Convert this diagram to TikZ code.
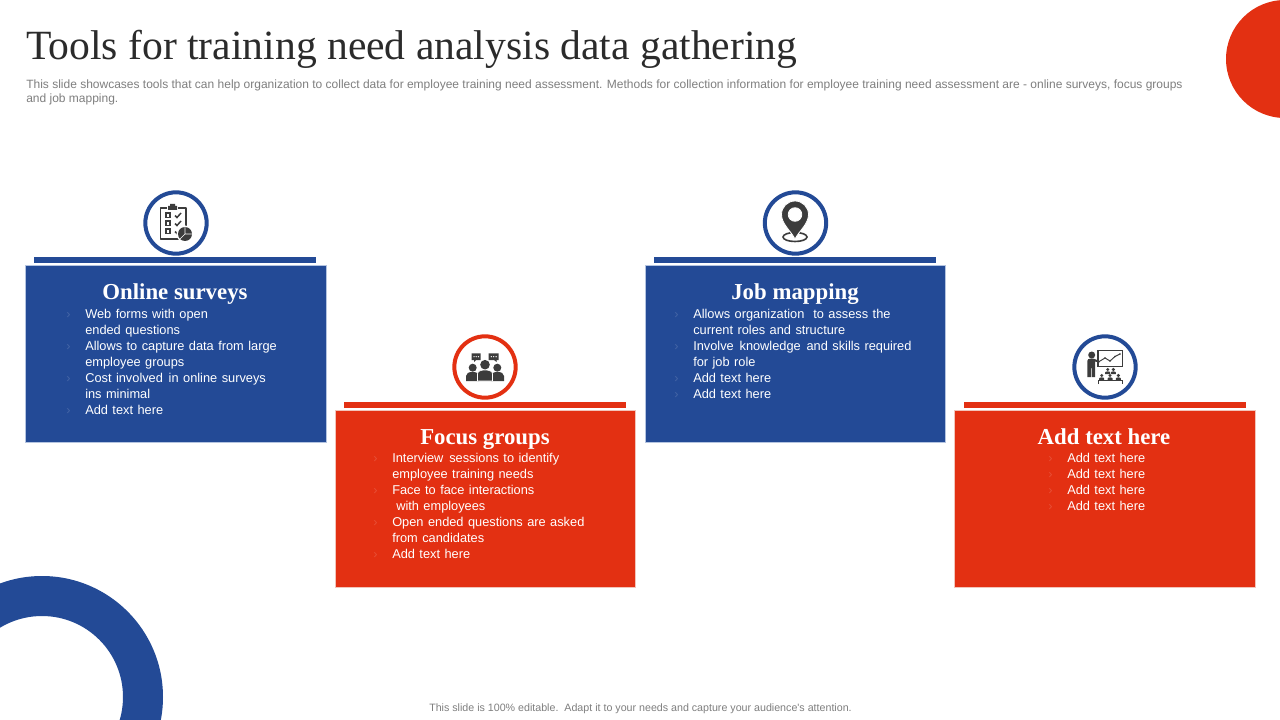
\documentclass[tikz,border=0pt]{standalone}
\usepackage{fontspec}
\setmainfont[WordSpace=1.25]{Liberation Sans}
\newfontfamily\plainsans{Liberation Sans}
\newfontfamily\headfont{Liberation Serif}
\definecolor{bluemain}{HTML}{234A96}
\definecolor{redmain}{HTML}{E33012}
\definecolor{iconc}{HTML}{3C3C3C}
\definecolor{titlec}{HTML}{2B2B2B}
\definecolor{greyc}{HTML}{7F7F7F}
\definecolor{bordb}{HTML}{B4C4E0}
\definecolor{bordr}{HTML}{F2C4BA}
\newcommand{\bl}[1]{\strut\llap{\makebox[14.25pt][l]{\color{bulc}›}}#1}
\tikzset{
  x=0.75pt,y=-0.75pt,
  card/.style={line width=0.8pt},
  ringb/.style={draw=bluemain,fill=white,line width=3pt},
  ringr/.style={draw=redmain,fill=white,line width=3pt},
  head/.style={inner sep=0,anchor=base,text=white,font=\headfont\bfseries\fontsize{17.1}{20}\selectfont},
  body/.style={inner sep=0,anchor=north west,align=left,text=white,font=\fontsize{9.6}{12}\selectfont},
  icl/.style={draw=iconc,line width=0.9pt,fill=none},
}
\begin{document}
\begin{tikzpicture}
\useasboundingbox (0,0) rectangle (1280,720);
\fill[white] (0,0) rectangle (1280,720);
% decorations
\fill[redmain] (1285,59) circle [radius=59];
\fill[bluemain,even odd rule] (42,697) circle [radius=121] (42,697) circle [radius=81];
% title
\node[inner sep=0,anchor=base west,text=titlec,font=\headfont\fontsize{31.2}{34}\selectfont] (title) at (26,60) {Tools for training need analysis data gathering};
\node[inner sep=0,anchor=north west,align=left,text=greyc,font=\plainsans\fontsize{9}{10.5}\selectfont] (sub) at (26,78) {\strut This slide showcases tools that can help organization to collect data for employee training need assessment. Methods for collection information for employee training need assessment are - online surveys, focus groups\\and job mapping.};
\node[inner sep=0,text=greyc,font=\plainsans\fontsize{8}{10}\selectfont] (foot) at (640.5,709) {This slide is 100\% editable.\ \ Adapt it to your needs and capture your audience's attention.};
% cards
\fill[bluemain] (34,257) rectangle (316,263);
\draw[card,fill=bluemain,draw=bordb] (25.5,265.5) rectangle (326.5,442.5);
\fill[redmain] (344,402) rectangle (626,408);
\draw[card,fill=redmain,draw=bordr] (335.5,410.5) rectangle (635.5,587.5);
\fill[bluemain] (654,257) rectangle (936,263);
\draw[card,fill=bluemain,draw=bordb] (645.5,265.5) rectangle (945.5,442.5);
\fill[redmain] (964,402) rectangle (1246,408);
\draw[card,fill=redmain,draw=bordr] (954.5,410.5) rectangle (1255.5,587.5);
% circles
\node[circle,ringb,minimum size=46pt,inner sep=0] (c1) at (176,223) {};
\node[circle,ringr,minimum size=46pt,inner sep=0] (c2) at (485,367) {};
\node[circle,ringb,minimum size=46pt,inner sep=0] (c3) at (795.5,223) {};
\node[circle,ringb,minimum size=46pt,inner sep=0] (c4) at (1105,367) {};
% headings
\node[head] (h1) at (175,299) {Online surveys};
\node[head] (h2) at (485,444) {Focus groups};
\node[head] (h3) at (795,299) {Job mapping};
\node[head] (h4) at (1104,444) {Add text here};
% bodies
\colorlet{bulc}{bluemain!85!white}
\node[body] (b1) at (85,307.5) {\bl{Web forms with open}\\\strut ended questions\\\bl{Allows to capture data from large}\\\strut employee groups\\\bl{Cost involved\hspace{1pt} in online surveys}\\\strut ins minimal\\\bl{Add text here}};
\node[body] (b3) at (693,307.5) {\bl{Allows organization\ \ to assess the}\\\strut current roles and structure\\\bl{Involve\hspace{1pt} knowledge\hspace{1pt} and skills required}\\\strut for job role\\\bl{Add text here}\\\bl{Add text here}};
\colorlet{bulc}{redmain!85!white}
\node[body] (b2) at (392,451.5) {\bl{Interview\hspace{1pt} sessions to identify}\\\strut employee training needs\\\bl{Face to face interactions}\\\strut\hspace{3pt}with employees\\\bl{Open ended questions are asked}\\\strut from candidates\\\bl{Add text here}};
\node[body] (b4) at (1067,451.5) {\bl{Add text here}\\\bl{Add text here}\\\bl{Add text here}\\\bl{Add text here}};
% icon 1: clipboard
\draw[icl,line width=1.2pt,line join=round] (167,208) -- (160.5,208) -- (160.5,239) -- (186,239) -- (186,208) -- (178,208);
\fill[iconc] (168,206) -- (170,206) -- (170,204) -- (175,204) -- (175,206) -- (177,206) -- (177,210) -- (168,210) -- cycle;
\foreach \yy in {213,221,229}{
  \draw[icl,line width=0.8pt] (166,\yy) rectangle (170,\yy+4.5);
  \fill[iconc] (166,\yy) rectangle (170,\yy+1.5);
  \draw[icl,line width=1.1pt] (175,\yy+2.5) -- (177,\yy+4.5) -- (181,\yy);
}
\fill[white] (185,234) circle [radius=8.5];
\fill[iconc] (185,234) circle [radius=7];
\draw[white,line width=0.5pt] (185,234) -- (185,227) (185,234) -- (192,234) (185,234) -- (180,239);
% icon 2: people
\fill[iconc] (471.7,353.3) rectangle (480.7,360) (474,360) -- (476,360) -- (474,362) -- cycle;
\fill[iconc] (488.7,353.3) rectangle (498.7,360) (494,360) -- (496.5,360) -- (496.5,362) -- cycle;
\foreach \xx in {474,476.2,478.4,491.3,493.7,496.1}{\fill[white] (\xx,356.7) circle [radius=0.7];}
\fill[iconc] (472.7,367.7) circle [radius=4];
\fill[iconc] (497.3,367.7) circle [radius=4];
\fill[iconc] (466,381) -- (466,376) .. controls (466,373) and (469,372) .. (472.5,372) .. controls (476,372) and (479,373) .. (479,376) -- (479,381) -- cycle;
\fill[iconc] (491,381) -- (491,376) .. controls (491,373) and (494,372) .. (497.5,372) .. controls (501,372) and (504,373) .. (504,376) -- (504,381) -- cycle;
\fill[iconc,draw=white,line width=0.5pt] (477.5,381) -- (477.5,374) .. controls (477.5,371) and (481,370) .. (485,370) .. controls (489,370) and (492.5,371) .. (492.5,374) -- (492.5,381) -- cycle;
\fill[iconc] (485,364.7) circle [radius=4.8];
% icon 3: pin
\draw[icl,line width=1.2pt] (795,237) ellipse [x radius=12,y radius=4.5];
\fill[iconc,even odd rule,draw=white,line width=0.6pt] (795,239) .. controls (791,231) and (781.5,224) .. (781.5,214.5) .. controls (781.5,207) and (787.5,201) .. (795,201) .. controls (802.5,201) and (808.5,207) .. (808.5,214.5) .. controls (808.5,224) and (799,231) .. (795,239) -- cycle (795,214.5) circle [radius=6.8];
% icon 4: trainer
\fill[iconc] (1091.7,355) circle [radius=3.5];
\fill[iconc] (1087.3,361) .. controls (1087.3,359.5) and (1088.5,358.7) .. (1090,358.7) -- (1093.5,358.7) -- (1100,361) -- (1099.5,362.5) -- (1095,361.5) -- (1095,377) -- (1091.5,377) -- (1091.5,368) -- (1090.8,368) -- (1090.8,377) -- (1087.3,377) -- cycle;
\draw[icl,line width=0.8pt] (1098,350.7) rectangle (1122.3,366.7);
\draw[icl,line width=0.7pt] (1100,361) -- (1105,358) -- (1110,361) -- (1115,356.5) -- (1120,354);
\foreach \xx/\yy in {1105/358,1110/361,1115/356.5,1120/354}{\fill[iconc] (\xx,\yy) circle [radius=0.9];}
\foreach \xx/\yy in {1107.7/369.5,1113.3/369.5,1101.7/375.5,1110/375.5,1118.3/375.5}{
  \fill[iconc] (\xx,\yy) circle [radius=1.7];
  \fill[iconc] (\xx-2.5,\yy+4.5) -- (\xx-2.5,\yy+3) .. controls (\xx-2.5,\yy+1.5) and (\xx+2.5,\yy+1.5) .. (\xx+2.5,\yy+3) -- (\xx+2.5,\yy+4.5) -- cycle;
}
\draw[icl,line width=0.6pt] (1098.5,384) -- (1098.5,380) -- (1122.5,380) -- (1122.5,384);
\end{tikzpicture}
\end{document}
